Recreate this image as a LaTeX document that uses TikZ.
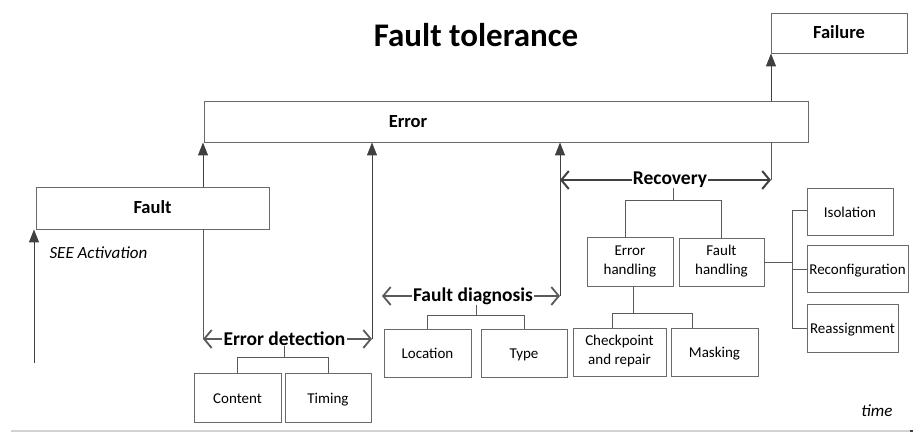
\documentclass[tikz,border=0pt]{standalone}
\usepackage{fontspec}
\setmainfont{Carlito}
\usetikzlibrary{arrows.meta}

\definecolor{linegray}{HTML}{5A5A5A}
\definecolor{boxgray}{HTML}{6A6A6A}
\definecolor{tipgray}{HTML}{404040}
\definecolor{axisgray}{HTML}{D2D2D2}

% invisible strut: 15pt above and 4pt below the baseline
\newcommand{\boxstrut}{\rule[-4pt]{0pt}{19pt}}

\tikzset{
  box/.style={draw=boxgray, line width=0.9pt, fill=white, inner sep=0pt,
    align=center, font=\fontsize{15}{19}\selectfont,
    execute at begin node=\boxstrut, execute at end node=\boxstrut},
  boldbox/.style={box, font=\fontsize{18.5}{22}\selectfont\bfseries},
  conn/.style={draw=linegray, line width=1pt},
  uparrow/.style={conn, -{Triangle[length=13pt,width=10pt]}, tipgray},
  rangelabel/.style={font=\fontsize{19.5}{22}\selectfont\bfseries, inner xsep=1pt, inner ysep=0pt},
  rangearrow/.style={draw=linegray, line width=1.5pt,
    -{Straight Barb[length=7.5pt,width=18pt,line width=1.8pt]}},
  recarrow/.style={draw=tipgray, line width=2.3pt,
    -{Straight Barb[length=7.5pt,width=18pt,line width=2pt]}},
}

\begin{document}
\begin{tikzpicture}[x=1pt, y=-1pt]
\useasboundingbox (0,0) rectangle (914,432);

% title
\node[font=\fontsize{33}{36}\selectfont\bfseries] (title) at (476,35) {Fault tolerance};

% main states
\node[boldbox, minimum width=136, minimum height=40] (failure) at (839,33) {Failure};
\node[box, minimum width=604, minimum height=41] (error) at (506,121.5) {};
\node[font=\fontsize{18.5}{22}\selectfont\bfseries] (errortext) at (408,121.5) {Error};
\node[boldbox, minimum width=233, minimum height=42] (fault) at (152.5,208) {Fault};
\node[font=\fontsize{17}{20}\selectfont\itshape, anchor=west] (see) at (46,253) {SEE Activation};

% vertical reference lines
\coordinate (xa) at (34,0);
\coordinate (xb) at (203,0);
\coordinate (xc) at (372,0);
\coordinate (xd) at (560,0);
\coordinate (xe) at (771,0);
\coordinate (seestart) at (34,363);

% phase labels
\node[rangelabel] (ed) at (284.5,339) {Error detection};
\node[rangelabel] (fd) at (473,296) {Fault diagnosis};
\node[rangelabel] (rc) at (670,180) {Recovery};

% leaf boxes
\node[box, minimum width=87, minimum height=49] (content) at (237.5,398) {Content};
\node[box, minimum width=86, minimum height=49] (timing) at (328,398) {Timing};
\node[box, minimum width=87, minimum height=48] (location) at (427.5,353) {Location};
\node[box, minimum width=86, minimum height=48] (type) at (524,353) {Type};
\node[box, minimum width=86, minimum height=49] (eh) at (630,262) {Error\\handling};
\node[box, minimum width=85, minimum height=48] (fh) at (721.5,262) {Fault\\handling};
\node[box, minimum width=93, minimum height=48] (chk) at (619.5,352) {Checkpoint\\and repair};
\node[box, minimum width=87, minimum height=48] (mask) at (714.5,352) {Masking};
\node[box, minimum width=86, minimum height=47] (iso) at (850,211.5) {Isolation};
\node[box, minimum width=101, minimum height=47] (reconf) at (857.5,269) {Reconfiguration};
\node[box, minimum width=91, minimum height=48] (reas) at (852.5,328) {Reassignment};

% time axis
\node[font=\fontsize{17}{20}\selectfont\itshape] (time) at (877,411) {time};
\coordinate (axisL) at (11,431);
\coordinate (axisR) at (910,431);
\draw[axisgray, line width=1.5pt] (axisL) -- (axisR);
\draw[tipgray, line width=2pt] (axisR) -- ++(3,0);

% causal arrows
\draw[uparrow] (seestart) -- (fault.south -| xa);
\draw[uparrow] (fault.north -| xb) -- (error.south -| xb);
\draw[uparrow] (xc |- ed) -- (error.south -| xc);
\draw[uparrow] (xd |- fd) -- (error.south -| xd);
\draw[uparrow] (error.north -| xe) -- (failure.south -| xe);
\draw[conn] (fault.south -| xb) -- (xb |- ed);
\draw[conn] (error.south -| xe) -- (xe |- rc);

% phase extents
\draw[rangearrow] (ed.west) -- (xb |- ed);
\draw[rangearrow] (ed.east) -- (xc |- ed);
\draw[rangearrow] (fd.west) -- (382,296);
\draw[rangearrow] (fd.east) -- (xd |- fd);
\draw[recarrow] (rc.west) -- (xd |- rc);
\draw[recarrow] (rc.east) -- (xe |- rc);

% breakdown trees
\draw[conn] (ed.south) -- ++(0,11) coordinate (edj);
\draw[conn] (content.north) |- (edj) -| (timing.north);
\draw[conn] ([xshift=3pt]fd.south) -- ++(0,11) coordinate (fdj);
\draw[conn] (location.north) |- (fdj) -| (type.north);
\draw[conn] ([xshift=3pt]rc.south) -- ++(0,12) coordinate (rcj);
\draw[conn] ([xshift=-5pt]eh.north) |- (rcj) -| (fh.north);
\draw[conn] ([xshift=3pt]eh.south) -- ++(0,27) coordinate (ehj);
\draw[conn] ([xshift=-7.5pt]chk.north) |- (ehj) -| ([xshift=-22.5pt]mask.north);
\draw[conn] (fh.east) -- ++(28.5,0) coordinate (fhj);
\draw[conn] ([yshift=1.5pt]iso.west) -| (fhj |- reas.west) -- (reas.west);
\draw[conn] (reconf.west) -- (fhj |- reconf.west);
\end{tikzpicture}
\end{document}
